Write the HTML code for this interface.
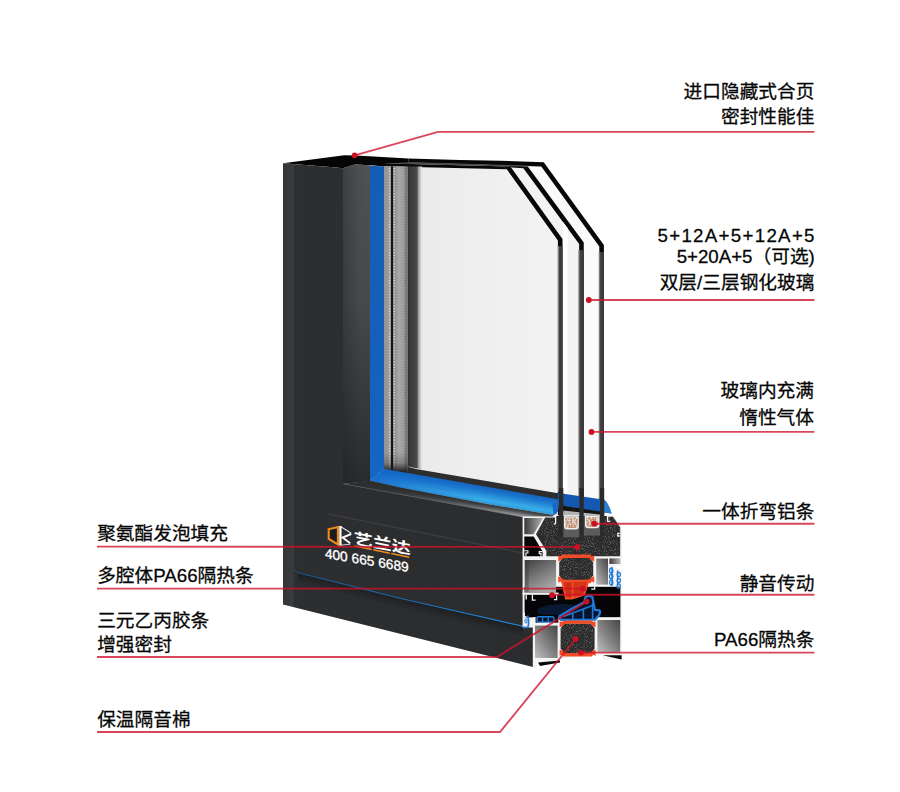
<!DOCTYPE html>
<html lang="zh"><head><meta charset="utf-8"><title>Window profile</title>
<style>
html,body{margin:0;padding:0;background:#fff;}
body{width:900px;height:792px;overflow:hidden;font-family:"Liberation Sans",sans-serif;}
svg{display:block;}
</style></head><body>
<svg width="900" height="792" viewBox="0 0 900 792">
<rect width="900" height="792" fill="#fff"/>
<defs>
<linearGradient id="gGlass" x1="419" y1="0" x2="561" y2="0" gradientUnits="userSpaceOnUse">
 <stop offset="0" stop-color="#ebebeb"/><stop offset="0.5" stop-color="#efefef"/><stop offset="1" stop-color="#f3f3f3"/>
</linearGradient>
<linearGradient id="gFace" x1="283" y1="0" x2="533" y2="0" gradientUnits="userSpaceOnUse">
 <stop offset="0" stop-color="#343537"/><stop offset="0.04" stop-color="#3a3b3d"/><stop offset="0.046" stop-color="#2d2e30"/><stop offset="1" stop-color="#2b2c2e"/>
</linearGradient>
<linearGradient id="gBevel" x1="0" y1="165" x2="0" y2="485" gradientUnits="userSpaceOnUse">
 <stop offset="0" stop-color="#505153"/><stop offset="0.42" stop-color="#494a4c"/><stop offset="0.72" stop-color="#393a3c"/><stop offset="0.92" stop-color="#2e2f31"/><stop offset="1" stop-color="#28292b"/>
</linearGradient>
<linearGradient id="gBevelB" x1="450" y1="496.6" x2="448.8" y2="503.8" gradientUnits="userSpaceOnUse">
 <stop offset="0" stop-color="#2c2d2f"/><stop offset="0.45" stop-color="#4a4b4d"/><stop offset="1" stop-color="#9a9b9d"/>
</linearGradient>
<linearGradient id="gBevelFade" x1="343" y1="0" x2="523" y2="0" gradientUnits="userSpaceOnUse">
 <stop offset="0" stop-color="#2c2d2f" stop-opacity="1"/><stop offset="0.2" stop-color="#2c2d2f" stop-opacity="0.92"/><stop offset="0.6" stop-color="#2c2d2f" stop-opacity="0.45"/><stop offset="1" stop-color="#2c2d2f" stop-opacity="0"/>
</linearGradient>
<linearGradient id="gBlueB" x1="450" y1="479.6" x2="447" y2="496.8" gradientUnits="userSpaceOnUse">
 <stop offset="0" stop-color="#1560bd"/><stop offset="0.3" stop-color="#1b76ce"/><stop offset="0.8" stop-color="#39aee8"/><stop offset="1" stop-color="#2b9be0"/>
</linearGradient>
<linearGradient id="gSpacer" x1="384" y1="0" x2="408" y2="0" gradientUnits="userSpaceOnUse">
 <stop offset="0" stop-color="#949494"/><stop offset="0.29" stop-color="#9c9c9c"/><stop offset="0.3" stop-color="#161616"/><stop offset="0.37" stop-color="#161616"/>
 <stop offset="0.38" stop-color="#888"/><stop offset="0.62" stop-color="#a8a8a8"/><stop offset="0.86" stop-color="#989898"/><stop offset="1" stop-color="#666"/>
</linearGradient>
<linearGradient id="gGap" x1="407.5" y1="0" x2="422" y2="0" gradientUnits="userSpaceOnUse">
 <stop offset="0" stop-color="#2e2e2e"/><stop offset="0.2" stop-color="#3b3b3b"/><stop offset="0.66" stop-color="#4a4a4a"/><stop offset="0.76" stop-color="#a0a0a0"/><stop offset="1" stop-color="#ececec"/>
</linearGradient>
<linearGradient id="gEdge" x1="0" y1="0" x2="1" y2="0">
 <stop offset="0" stop-color="#a8a8a8"/><stop offset="0.38" stop-color="#404040"/><stop offset="1" stop-color="#383838"/>
</linearGradient>
<linearGradient id="gBlueLine" x1="294" y1="0" x2="523" y2="0" gradientUnits="userSpaceOnUse">
 <stop offset="0" stop-color="#1b4c7e"/><stop offset="0.35" stop-color="#1c66aa"/><stop offset="1" stop-color="#2186dc"/>
</linearGradient>
<linearGradient id="gSpB" x1="0" y1="452" x2="0" y2="472" gradientUnits="userSpaceOnUse">
 <stop offset="0" stop-color="#1a1a1a" stop-opacity="0"/><stop offset="0.55" stop-color="#1a1a1a" stop-opacity="0.25"/><stop offset="1" stop-color="#1a1a1a" stop-opacity="0.95"/>
</linearGradient>
<linearGradient id="gBlueV" x1="0" y1="166" x2="0" y2="480" gradientUnits="userSpaceOnUse">
 <stop offset="0" stop-color="#155db4"/><stop offset="0.6" stop-color="#1560b9"/><stop offset="1" stop-color="#1666c4"/>
</linearGradient>
<linearGradient id="gBlueFade" x1="370" y1="0" x2="480" y2="0" gradientUnits="userSpaceOnUse">
 <stop offset="0" stop-color="#1566c8" stop-opacity="0.9"/><stop offset="0.35" stop-color="#1566c8" stop-opacity="0.5"/><stop offset="1" stop-color="#1566c8" stop-opacity="0"/>
</linearGradient>
<linearGradient id="gShadow" x1="0" y1="0" x2="0" y2="1">
 <stop offset="0" stop-color="#000" stop-opacity="0.32"/><stop offset="1" stop-color="#000" stop-opacity="0"/>
</linearGradient>
<linearGradient id="gBevelH" x1="343" y1="0" x2="370" y2="0" gradientUnits="userSpaceOnUse">
 <stop offset="0" stop-color="#1c1d1f" stop-opacity="0.35"/><stop offset="0.6" stop-color="#1c1d1f" stop-opacity="0.05"/><stop offset="1" stop-color="#1c1d1f" stop-opacity="0"/>
</linearGradient>
<linearGradient id="gChH" x1="0" y1="0" x2="1" y2="0">
 <stop offset="0" stop-color="#3a3a3a"/><stop offset="1" stop-color="#b5b5b5"/>
</linearGradient>
<linearGradient id="gChV" x1="0" y1="0" x2="0.55" y2="1">
 <stop offset="0" stop-color="#404040"/><stop offset="0.55" stop-color="#7a7a7a"/><stop offset="1" stop-color="#a8a8a8"/>
</linearGradient>
<linearGradient id="gChD" x1="1" y1="0" x2="0" y2="1">
 <stop offset="0" stop-color="#454545"/><stop offset="0.55" stop-color="#858585"/><stop offset="1" stop-color="#c0c0c0"/>
</linearGradient>
<filter id="fNoise" x="0" y="0" width="100%" height="100%">
 <feTurbulence type="fractalNoise" baseFrequency="1.05" numOctaves="2" seed="7" result="n"/>
 <feColorMatrix in="n" type="matrix" values="0 0 0 0 0.66  0 0 0 0 0.66  0 0 0 0 0.66  4.5 0 0 0 -2.35"/>
 <feComposite in2="SourceGraphic" operator="in"/>
</filter>
<filter id="fNoiseB" x="0" y="0" width="100%" height="100%">
 <feTurbulence type="fractalNoise" baseFrequency="0.55" numOctaves="2" seed="3" result="n"/>
 <feColorMatrix in="n" type="matrix" values="0 0 0 0 0.5  0 0 0 0 0.25  0 0 0 0 0.13  6 0 0 0 -2.35"/>
 <feComposite in2="SourceGraphic" operator="in"/>
</filter>
</defs>
<g id="glass">
<polygon points="419,161 543.75,162.20 603.90,245.10 603.90,536.00 419,536" fill="#fafafa"/>
<polygon points="408.50,158.40 460.00,160.00 500.00,160.80 543.75,162.20 603.90,245.10 603.90,536.00 599.30,536.00 599.30,246.59 541.28,166.62 483.21,164.77 487.01,164.84 408.38,162.40" fill="#070707"/>
<polygon points="419,163 527.80,166.40 583.75,242.40 583.75,537.00 419,537" fill="#f3f3f3"/>
<polygon points="505.00,165.00 527.80,166.40 583.75,242.40 583.75,537.00 579.15,537.00 579.15,243.91 523.36,168.13 504.88,167.00" fill="#070707"/>
<polygon points="419,166 510.40,166.40 562.50,239.00 562.50,537.40 419,537" fill="url(#gGlass)"/>
<polygon points="563,222 567.6,228 567.6,494 563,494" fill="#ffffff"/>
<polygon points="381.60,163.30 510.40,166.40 562.50,239.00 562.50,537.40 557.90,537.40 557.90,240.48 506.83,169.31 381.53,166.30" fill="#070707"/>
<polygon points="384,163.2 408.5,162 460,163.6 500,164.8 527,165.6 527,166.6 510.4,166.5 381.6,163.4" fill="#4a4a4a"/>
<rect x="557.7" y="246" width="4.8" height="246" fill="url(#gEdge)"/>
<rect x="578.2" y="250" width="5.55" height="246" fill="url(#gEdge)"/>
<rect x="598.6" y="252" width="5.3" height="246" fill="url(#gEdge)"/>
</g>
<path d="M557,492.8 L599.3,499.1 L604.4,499.7 Q608.4,503 611.6,513.6 L604,512.4 L557,505 Z" fill="#1458b2"/>
<path d="M604.2,499.7 Q608.4,503 611.6,513.6 L604.2,512.4 Z" fill="#2a7fd2"/>
<polygon points="557,504.8 604.2,512 604.2,516 557,511" fill="#141414"/>
<polygon points="563.3,510.4 600,514.6 600,516.4 563.3,516.4" fill="#b4b4b4"/>
<g id="frame">
<polygon points="283,163.2 344.3,155.3 356,155.6 408.5,158.4 408.5,162.4 386,163.4 384.4,166.6 371,165.2 355,164.6 343,168.3 333.7,167.2" fill="#050505"/>
<polygon points="384,166 407.7,166.6 407.7,473.6 384,469.4" fill="url(#gSpacer)"/>
<line x1="389.4" y1="168" x2="389.4" y2="468" stroke="#e2e2e2" stroke-width="1.1" stroke-dasharray="1.2 1.6"/>
<line x1="394.3" y1="168" x2="394.3" y2="468" stroke="#ececec" stroke-width="1.1" stroke-dasharray="1.2 1.6"/>
<line x1="405.4" y1="168" x2="405.4" y2="468" stroke="#5e5e5e" stroke-width="1.1" stroke-dasharray="1.2 1.6"/>
<polygon points="407.7,166.6 422,166.6 422,469.4 407.7,466.6" fill="url(#gGap)"/>
<polygon points="407.7,466.8 417.3,469.2 558,493.2 558,500 407.7,473.8" fill="#2d2d2d"/>
<polygon points="384,469.6 407.7,473.8 407.7,452 384,452" fill="url(#gSpB)"/>
<polygon points="370,165.6 384,166.4 384,469 370,481" fill="url(#gBlueV)"/>
<path d="M370,480.8 L384,468.9 L558.4,499.2 L558.4,508 Q557.5,514.6 553.6,514.9 L490,504.5 L400,487.4 Z" fill="url(#gBlueB)"/>
<path d="M370,480.8 L384,468.9 L480,485.6 L480,502.6 L400,487.4 Z" fill="url(#gBlueFade)"/>
<path d="M552.4,504 L558.4,499.2 L558.4,508 Q557.5,514.6 553.6,514.9 Z" fill="#1a66c4"/>
<polygon points="343,168.3 355,164.6 370,165.2 370,481 343,483.9" fill="url(#gBevel)"/>
<polygon points="343,168.3 355,164.6 370,165.2 370,481 343,483.9" fill="url(#gBevelH)"/>
<polygon points="343,483.9 370,480.8 400,487.4 490,504.5 553.6,514.9 553.6,517.4 523,517.4" fill="url(#gBevelB)"/>
<polygon points="343,483.9 370,480.8 400,487.4 490,504.5 553.6,514.9 553.6,517.4 523,517.4" fill="url(#gBevelFade)"/>
<polyline points="343,483.9 523,517.4" fill="none" stroke="#6a6b6d" stroke-width="0.8"/>
<polygon points="283,163.2 333.7,167.2 343,168.3 343,483.9 523,517.4 523,627 533,627 533,667 283,604.5" fill="url(#gFace)"/>
<path d="M293.6,166 L293.6,563" fill="none" stroke="#3a3b3d" stroke-width="0.8"/>
<g transform="matrix(1,0.238,0,1,0,0)"><rect x="298" y="502.4" width="225" height="11" fill="url(#gShadow)"/></g>
<path d="M294.4,569.6 Q295.4,572 299,572.9 L400,598.2 L523,626.3" fill="none" stroke="url(#gBlueLine)" stroke-width="1.1"/>
<polyline points="327.5,513.8 523,553" fill="none" stroke="#47484a" stroke-width="0.8"/>
</g>
<g id="logo">
<polygon points="328.7,529.3 337.9,527 337.9,544.4 328.7,539" fill="#1c1c1c" stroke="#f08a1c" stroke-width="2.1" stroke-linejoin="miter"/>
<path d="M338.4,526.2 V545.2" fill="none" stroke="#f08a1c" stroke-width="1.4"/>
<path d="M340.4,526 V545.6" fill="none" stroke="#fff" stroke-width="2.3"/>
<path d="M340.8,526.6 L351.4,533.4" fill="none" stroke="#fff" stroke-width="1.1"/>
<path d="M340.8,545.2 L350.4,544.2" fill="none" stroke="#fff" stroke-width="0.8"/>
<path d="M351.2,534 L342.6,537.5 L350.2,543.2" fill="none" stroke="#fff" stroke-width="1.9"/>
</g>
<g transform="matrix(1,0.19,0,0.8,0,476.23)"><text x="353.8" y="0" font-family="'Liberation Sans','Noto Sans CJK SC',sans-serif" font-size="19" font-weight="bold" fill="#fff">艺兰达</text></g>
<line x1="354.6" y1="546" x2="409.2" y2="557.2" stroke="#f08a1c" stroke-width="1.4" stroke-dasharray="17.5 1.4 17 1.4 30"/>
<g transform="matrix(1,0.165,0,1,0,0)"><text x="324.9" y="504.5" font-family="'Liberation Sans',sans-serif" font-size="13.7" fill="#fff" stroke="#fff" stroke-width="0.35">400 665 6689</text></g>
<g id="section">
<polygon points="522.6,516.6 554,516.6 554,515.2 613,515.2 621.8,527 621.8,659.6 603,659.6 603,655.5 560,658 560,662 537,662.6 537,667 532.8,667 532.8,627.4 522.6,627.4" fill="#f4f4f4"/>
<rect x="524.6" y="586.8" width="95.8" height="30.6" fill="#050507"/>
<ellipse cx="563" cy="611" rx="26" ry="7" fill="#0c2a55" opacity="0.55"/>
<polygon points="524.3,518 543.2,518 533.5,534.3 524.3,534.3" fill="url(#gChH)"/>
<polygon points="524.3,536.4 533.7,536.4 542.6,551.4 542.6,556.2 524.3,556.2" fill="#070707"/>
<path d="M524.3,550.8 h3.6 v2.2 h-2 v3.2 M542.6,551.6 h-3.4 v2 h1.8 v2.6" fill="none" stroke="#f4f4f4" stroke-width="1.1"/>
<polygon points="545.2,517.6 556,517.6 556,516 612.4,516 620.2,527.2 620.2,556.3 546.4,556.3 546.4,551 536,534.3" fill="#2b2b2b"/>
<polygon points="545.2,517.6 556,517.6 556,516 612.4,516 620.2,527.2 620.2,556.3 546.4,556.3 546.4,551 536,534.3" fill="#fff" filter="url(#fNoise)" opacity="0.32"/>
<path d="M552.8,516.4 h2.8 v6.4 q-0.2,1.6 -1.8,1.2" fill="none" stroke="#f4f4f4" stroke-width="1.3"/>
<path d="M612.6,516.2 h-5 v5.2 h2.4 M619.8,533.4 h-2 v2.6 h2" fill="none" stroke="#f4f4f4" stroke-width="1.3"/>
<rect x="563" y="516" width="16.6" height="21.2" fill="#5c5c5c"/>
<rect x="583.5" y="515.6" width="16.8" height="20" fill="#5c5c5c"/>
<path d="M564,516.2 H578.8 V526.4 Q578.8,529.4 575.8,529.4 H567 Q564,529.4 564,526.4 Z" fill="#ececec"/>
<path d="M565.3,517.6 H577.5 V526.0 Q577.5,528.0 575.1999999999999,528.0 H567.6 Q565.3,528.0 565.3,526.0 Z" fill="#e4d6cc"/>
<path d="M565.3,517.6 H577.5 V526.0 Q577.5,528.0 575.1999999999999,528.0 H567.6 Q565.3,528.0 565.3,526.0 Z" fill="#fff" filter="url(#fNoiseB)" opacity="0.9"/>
<path d="M585,515.8 H599.4 V525.2 Q599.4,528.2 596.4,528.2 H588 Q585,528.2 585,525.2 Z" fill="#ececec"/>
<path d="M586.3,517.1999999999999 H598.1 V524.8000000000001 Q598.1,526.8000000000001 595.8,526.8000000000001 H588.6 Q586.3,526.8000000000001 586.3,524.8000000000001 Z" fill="#e4d6cc"/>
<path d="M586.3,517.1999999999999 H598.1 V524.8000000000001 Q598.1,526.8000000000001 595.8,526.8000000000001 H588.6 Q586.3,526.8000000000001 586.3,524.8000000000001 Z" fill="#fff" filter="url(#fNoiseB)" opacity="0.9"/>
<rect x="558.9" y="488" width="4.4" height="49.4" fill="#2a2a2a"/>
<rect x="579.4" y="488" width="4.3" height="49.2" fill="#2a2a2a"/>
<rect x="600" y="488" width="4.2" height="47.6" fill="#2a2a2a"/>
<rect x="524.7" y="560" width="31.4" height="32.6" fill="url(#gChV)"/>
<rect x="524.7" y="560" width="4" height="32.6" fill="#333" opacity="0.35"/>
<rect x="522.6" y="592.6" width="36" height="2.2" fill="#f4f4f4"/>
<path d="M526.2,594.8 v4.6 M532.4,594.8 v5.4 h3.2 M556.6,594.8 v4.8 h-2.6" fill="none" stroke="#f4f4f4" stroke-width="1.3"/>
<rect x="596.2" y="558.6" width="11.8" height="26" fill="url(#gChD)"/>
<path d="M594.6,586.8 v2.4 h-3.4" fill="none" stroke="#f4f4f4" stroke-width="1.3"/>
<rect x="609.4" y="558.4" width="11" height="5.6" fill="url(#gChH)"/>
<path d="M612,567 v19 M617.6,570.5 v18" fill="none" stroke="#1e7ad6" stroke-width="1.5"/>
<ellipse cx="611.2" cy="570.5" rx="1.7" ry="2.3" fill="none" stroke="#1e7ad6" stroke-width="1.2"/>
<ellipse cx="611.2" cy="576.5" rx="1.7" ry="2.3" fill="none" stroke="#1e7ad6" stroke-width="1.2"/>
<ellipse cx="611.2" cy="582.5" rx="1.7" ry="2.3" fill="none" stroke="#1e7ad6" stroke-width="1.2"/>
<ellipse cx="618.8" cy="574.5" rx="1.6" ry="2.2" fill="none" stroke="#1e7ad6" stroke-width="1.2"/>
<ellipse cx="618.8" cy="580.5" rx="1.6" ry="2.2" fill="none" stroke="#1e7ad6" stroke-width="1.2"/>
<ellipse cx="618.8" cy="586" rx="1.6" ry="2.2" fill="none" stroke="#1e7ad6" stroke-width="1.2"/>
<polygon points="613.6,566 621.8,566 621.8,570.5" fill="#fff"/>
<polygon points="562.8000000000001,557.8000000000001 589.6,557.8000000000001 593.2,562.6 593.2,575.2 589.6,580.0 562.8000000000001,580.0 559.2,575.2 559.2,562.6" fill="#2b2b2b"/>
<polygon points="562.8000000000001,557.8000000000001 589.6,557.8000000000001 593.2,562.6 593.2,575.2 589.6,580.0 562.8000000000001,580.0 559.2,575.2 559.2,562.6" fill="#fff" filter="url(#fNoise)" opacity="0.32"/>
<path d="M561.8000000000001,554.6 H590.6 L591.6,556.2 L594.2,555.4 V561.6 L591.2,560.2 L588.8000000000001,558.0 H563.6 L561.2,560.2 L558.2,561.6 V555.4 L560.8000000000001,556.2 Z" fill="#f24c26"/>
<path d="M563.6,579.8000000000001 H588.8000000000001 L591.2,577.6 L594.2,576.2 V582.6 L591.6,581.6 L590.6,583.2 H561.8000000000001 L560.8000000000001,581.6 L558.2,582.6 V576.2 L561.2,577.6 Z" fill="#f24c26"/>
<polygon points="561,580.4 589.8,579.8 584.8,595.4 572,599.6 565.2,599.4" fill="#f24c26"/>
<polygon points="563.8,582.2 571.6,582.2 571.6,597.6 566.8,597.4" fill="#cf2e16"/>
<polygon points="573.6,582.2 586.8,581.8 583.6,593.6 573.6,597" fill="#cf2e16"/>
<polygon points="573.6,582.2 586.8,581.8 585.6,586 573.6,588.2" fill="#d6361a"/>
<rect x="537" y="616.8" width="17" height="5.4" rx="1.6" fill="#06142c" stroke="#1e7ad6" stroke-width="1.5"/>
<path d="M542.6,616.8 v5.4 M548.2,616.8 v5.4" stroke="#1e7ad6" stroke-width="1.3"/>
<path d="M554,618.4 L562.6,616.4" stroke="#1e7ad6" stroke-width="1.5"/>
<path d="M527.6,615.4 q1.8,5 0.6,11.4 q-2.4,1.4 -5.2,0.2" fill="none" stroke="#1e7ad6" stroke-width="1.6"/>
<ellipse cx="526" cy="621" rx="1.1" ry="2.2" fill="none" stroke="#1e7ad6" stroke-width="1"/>
<path d="M524.4,612.6 v4 h2" fill="none" stroke="#f4f4f4" stroke-width="1.2"/>
<rect x="532.8" y="617.4" width="88.4" height="2.2" fill="#f4f4f4"/>
<path d="M596.6,617.4 v-4.6 h2.4" fill="none" stroke="#f4f4f4" stroke-width="1.3"/>
<rect x="532.8" y="617.4" width="3" height="8" fill="#f4f4f4"/>
<rect x="535.6" y="614.8" width="22.6" height="8" fill="#050507"/>
<rect x="537" y="616.8" width="17" height="5.4" rx="1.6" fill="#06142c" stroke="#1e7ad6" stroke-width="1.5"/>
<path d="M542.6,616.8 v5.4 M548.2,616.8 v5.4" stroke="#1e7ad6" stroke-width="1.3"/>
<rect x="534.8" y="622.8" width="24" height="2.6" fill="#f4f4f4"/>
<path d="M559.4,616.2 L571,609.2 L584.2,602.2 L585.4,597.2 Q588.6,594.8 592.4,597 L594.8,609.8 L599.6,610.4 Q600.8,613.2 598.4,616 L595.2,619.6 L560.6,619.8 Z" fill="#06142c" stroke="#1e7ad6" stroke-width="2.2" stroke-linejoin="round"/><path d="M563.4,616.6 L592.6,605.6 M572.8,613 V619.4 M583.4,609 V619.4 M592.6,603 V619.2" fill="none" stroke="#1e7ad6" stroke-width="1.6"/>
<rect x="535" y="625.6" width="22.6" height="32.4" fill="url(#gChD)"/>
<rect x="597.4" y="620" width="22.8" height="32.4" fill="url(#gChD)"/>
<polygon points="564.2,623.6 591.0,623.6 594.6,628.4 594.6,648.4 591.0,653.1999999999999 564.2,653.1999999999999 560.6,648.4 560.6,628.4" fill="#2b2b2b"/>
<polygon points="564.2,623.6 591.0,623.6 594.6,628.4 594.6,648.4 591.0,653.1999999999999 564.2,653.1999999999999 560.6,648.4 560.6,628.4" fill="#fff" filter="url(#fNoise)" opacity="0.32"/>
<path d="M563.2,620.4 H592.0 L593.0,622.0 L595.6,621.1999999999999 V627.4 L592.6,626.0 L590.2,623.8 H565.0 L562.6,626.0 L559.6,627.4 V621.1999999999999 L562.2,622.0 Z" fill="#f24c26"/>
<path d="M565.0,653.0 H590.2 L592.6,650.8 L595.6,649.4 V655.8 L593.0,654.8 L592.0,656.4 H563.2 L562.2,654.8 L559.6,655.8 V649.4 L562.6,650.8 Z" fill="#f24c26"/>
<polygon points="602.6,655.2 621.6,655.2 621.6,659.6 " fill="#0a0a0a"/>
<polygon points="538,662.4 560,660.4 560,662.6 540,666" fill="#0a0a0a"/>
</g>
<g id="callouts" fill="none" stroke="#d0122a" stroke-width="1.9" stroke-opacity="0.78">
<polyline points="354.6,155.3 438,131.9 814.4,131.9"/>
<line x1="588.8" y1="300" x2="814.4" y2="300"/>
<line x1="591.5" y1="431.9" x2="814.4" y2="431.9"/>
<line x1="594.2" y1="523.7" x2="814.4" y2="523.7"/>
<line x1="552" y1="594.8" x2="814.4" y2="594.8"/>
<line x1="581" y1="652.6" x2="814.4" y2="652.6"/>
<line x1="97" y1="546.6" x2="577.3" y2="546.9"/>
<line x1="97" y1="588.6" x2="583" y2="588.6"/>
<polyline points="97,657 497,657 586.6,601.6"/>
<polyline points="97,732 500,732 575.6,639"/>
</g>
<g id="dots" fill="#cc1022">
<circle cx="354.6" cy="155.3" r="2.9"/>
<circle cx="588.8" cy="300" r="2.9"/>
<circle cx="591.5" cy="431.9" r="2.9"/>
<circle cx="594.2" cy="523.7" r="2.9"/>
<circle cx="552" cy="595.2" r="2.9"/>
<circle cx="581" cy="652.6" r="2.9"/>
<circle cx="577.3" cy="547" r="2.9"/>
<circle cx="583" cy="588.7" r="2.9"/>
<circle cx="586.6" cy="601.6" r="2.9"/>
<circle cx="575.6" cy="639" r="2.9"/>
</g>
<g id="labels" fill="#050505" stroke="#050505" stroke-width="0.28" stroke-linejoin="round" font-family="'Liberation Sans','Noto Sans CJK SC',sans-serif" font-size="18.7">
<text x="814.4" y="97.5" text-anchor="end">进口隐藏式合页</text>
<text x="814.4" y="122.5" text-anchor="end">密封性能佳</text>
<text x="657.5" y="241.8" textLength="157" lengthAdjust="spacing">5+12A+5+12A+5</text>
<text x="814.8" y="262.6" text-anchor="end">5+20A+5（可选)</text>
<text x="814.4" y="288.9" text-anchor="end">双层/三层钢化玻璃</text>
<text x="814" y="397.3" text-anchor="end">玻璃内充满</text>
<text x="814" y="423.7" text-anchor="end">惰性气体</text>
<text x="814.4" y="517.7" text-anchor="end">一体折弯铝条</text>
<text x="814.4" y="589.5" text-anchor="end">静音传动</text>
<text x="814.4" y="646.15" text-anchor="end">PA66隔热条</text>
<text x="97.2" y="540.2">聚氨酯发泡填充</text>
<text x="97.2" y="582.15">多腔体PA66隔热条</text>
<text x="97.2" y="626.6">三元乙丙胶条</text>
<text x="97.2" y="650.5">增强密封</text>
<text x="97.2" y="725.7">保温隔音棉</text>
</g>
</svg>
</body></html>
